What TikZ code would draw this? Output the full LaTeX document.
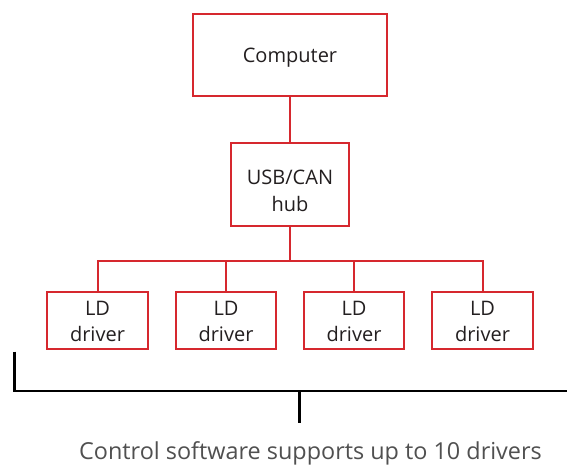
\documentclass[tikz,border=0pt]{standalone}
\usepackage{fontspec}
\setmainfont{Open Sans}
\definecolor{boxred}{RGB}{214,40,46}
\definecolor{boxtext}{RGB}{35,31,32}
\definecolor{labeltext}{RGB}{80,80,80}
\begin{document}
\begin{tikzpicture}[x=1bp,y=-1bp,
  box/.style={draw=boxred, line width=2bp, inner sep=0pt},
  boxlabel/.style={text=boxtext, align=center, inner sep=0pt,
    font=\fontsize{20bp}{26.5bp}\selectfont},
  link/.style={draw=boxred, line width=2bp},
  brace/.style={draw=black, line width=2.8bp}]
\useasboundingbox[fill=white] (0,0) rectangle (567,465);
\node[box, minimum width=194bp, minimum height=82.5bp] (comp) at (290,55.25) {};
\node[box, minimum width=118.6bp, minimum height=82.7bp] (hub) at (290,184.3) {};
\node[box, minimum width=100.4bp, minimum height=57bp] (d1) at (97.5,320.8) {};
\node[box, minimum width=100.4bp, minimum height=57bp] (d2) at (226,320.8) {};
\node[box, minimum width=100.4bp, minimum height=57bp] (d3) at (354,320.8) {};
\node[box, minimum width=100.4bp, minimum height=57bp] (d4) at (482.5,320.8) {};
\node[boxlabel, anchor=base] (comp-t) at (290,62.5) {Computer};
\node[boxlabel, anchor=base] (hub-t) at (290,211.5) {USB/CAN\\hub};
\node[boxlabel, anchor=base] (d1-t) at (97.5,341.5) {LD\\driver};
\node[boxlabel, anchor=base] (d2-t) at (226,341.5) {LD\\driver};
\node[boxlabel, anchor=base] (d3-t) at (354,341.5) {LD\\driver};
\node[boxlabel, anchor=base] (d4-t) at (482.5,341.5) {LD\\driver};
\coordinate (bus) at (290,260.7);
\draw[link] (comp.south) -- (hub.north);
\draw[link] (hub.south) -- (bus);
\draw[link] (d1.north) |- (bus) -| (d4.north);
\draw[link] (d2.north) -- (d2.north |- bus);
\draw[link] (d3.north) -- (d3.north |- bus);
\coordinate (bl) at (14.7,351.7);
\coordinate (bc) at (14.7,391);
\coordinate (br) at (567,391);
\coordinate (tt) at (299.3,391);
\coordinate (tb) at (299.3,422.7);
\draw[brace] (bl) -- (bc) -- (br);
\draw[brace] (tt) -- (tb);
\node[anchor=base, text=labeltext, font=\fontsize{23.4bp}{28bp}\selectfont, inner sep=0pt] (lab) at (310.5,459) {Control software supports up to 10 drivers};
\end{tikzpicture}
\end{document}
